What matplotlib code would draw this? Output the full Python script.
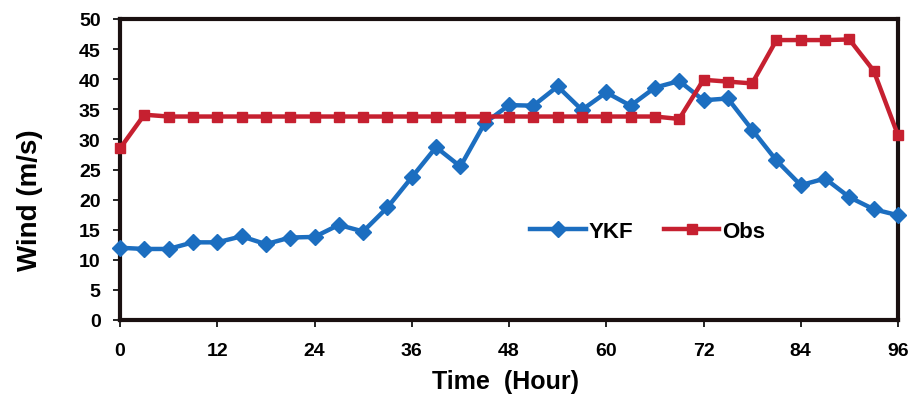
import matplotlib
matplotlib.use('Agg')
import matplotlib.pyplot as plt

# wind speed every 3 hours, 0..96
hours = list(range(0, 97, 3))
ykf = [12.0, 11.8, 11.8, 12.9, 12.9, 13.9, 12.6, 13.7, 13.8, 15.8, 14.7,
       18.7, 23.7, 28.7, 25.5, 32.7, 35.7, 35.6, 38.8, 34.9, 37.8, 35.6,
       38.6, 39.7, 36.5, 36.8, 31.6, 26.5, 22.4, 23.5, 20.4, 18.4, 17.4]
obs = [28.5, 34.1, 33.8, 33.8, 33.8, 33.8, 33.8, 33.8, 33.8, 33.8, 33.8,
       33.8, 33.8, 33.8, 33.8, 33.8, 33.8, 33.8, 33.8, 33.8, 33.8, 33.8,
       33.8, 33.4, 39.9, 39.6, 39.3, 46.5, 46.5, 46.5, 46.6, 41.4, 30.7]

plt.rcParams['font.family'] = ['Liberation Sans', 'DejaVu Sans']
plt.rcParams['font.weight'] = 'bold'

fig = plt.figure(figsize=(9.13, 4.02), dpi=100)
ax = fig.add_axes([120/913, 1 - 321/402, 778/913, 301/402])

ax.plot(hours, ykf, color='#1c6ec0', lw=3.2, marker='D', ms=8, label='YKF', clip_on=False, zorder=3)
ax.plot(hours, obs, color='#c62030', lw=3.2, marker='s', ms=7.5, label='Obs', clip_on=False, zorder=3)

ax.set_xlim(0, 96)
ax.set_ylim(0, 50)
ax.set_xticks(range(0, 97, 12))
ax.set_yticks(range(0, 51, 5))
ax.tick_params(labelsize=14, direction='out', length=5, width=1.2)
ax.tick_params(axis='x', pad=11)
ax.tick_params(axis='y', pad=9)
for s in ax.spines.values():
    s.set_linewidth(3)
    s.set_color('#1a1010')

ax.set_xlabel('Time  (Hour)', fontsize=18, fontweight='bold')
ax.xaxis.set_label_coords((506 - 120) / 778, -(382 - 321) / 301)
ax.xaxis.label.set_va('center')
ax.set_ylabel('Wind (m/s)', fontsize=20, fontweight='bold')
ax.yaxis.set_label_coords(-(120 - 30) / 778, (321 - 200) / 301)
ax.yaxis.label.set_va('center')

ax.legend(loc='center', bbox_to_anchor=(0.678, 0.295), ncol=2, frameon=False,
          fontsize=16, handlelength=2.5, columnspacing=1.4, handletextpad=0.1)

fig.savefig('out.png', dpi=100)
